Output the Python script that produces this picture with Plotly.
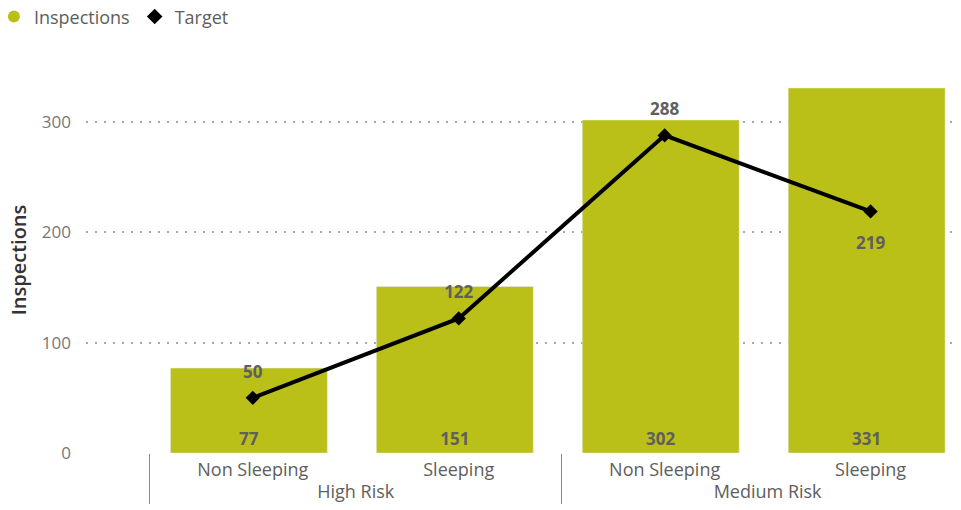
import plotly.graph_objects as go

risk = ["High Risk", "High Risk", "Medium Risk", "Medium Risk"]
sleep = ["Non Sleeping", "Sleeping", "Non Sleeping", "Sleeping"]
inspections = [77, 151, 302, 331]
target = [50, 122, 288, 219]
target_pos = ["top center", "top center", "top center", "bottom center"]

BAR = "#BAC018"
FONT = "Segoe UI, Open Sans, sans-serif"
LABEL = "#5F5F5F"

fig = go.Figure()
fig.add_trace(go.Bar(
    x=[risk, sleep], y=inspections, marker_color=BAR, width=0.762, offset=-0.4,
    text=[str(v) for v in inspections], textposition="inside",
    insidetextanchor="start", textangle=0,
    textfont=dict(color=LABEL, size=17, family=FONT, weight="bold"),
    showlegend=False, name="Inspections",
))
fig.add_trace(go.Scatter(
    x=[risk, sleep], y=target, mode="lines+markers",
    line=dict(color="black", width=4),
    marker=dict(symbol="diamond", size=11, color="black"),
    showlegend=False, name="Target", cliponaxis=False,
))
# Target data labels, offset using a transparent marker
fig.add_trace(go.Scatter(
    x=[risk, sleep], y=target, mode="markers+text",
    marker=dict(size=[24, 24, 24, 38], color="rgba(0,0,0,0)",
                line=dict(width=0, color="rgba(0,0,0,0)")),
    text=[str(v) for v in target], textposition=target_pos,
    textfont=dict(color=LABEL, size=17, family=FONT, weight="bold"),
    showlegend=False, hoverinfo="skip", cliponaxis=False,
))
# legend entries
fig.add_trace(go.Scatter(x=[None], y=[None], mode="markers", name="Inspections",
                         marker=dict(symbol="circle", size=15, color=BAR)))
fig.add_trace(go.Scatter(x=[None], y=[None], mode="markers", name="Target",
                         marker=dict(symbol="diamond", size=13, color="black")))

fig.update_layout(
    width=961, height=510,
    margin=dict(l=86, r=6, t=67, b=57, autoexpand=False),
    plot_bgcolor="white", paper_bgcolor="white",
    font=dict(family=FONT, color="#605E5C", size=14),
    legend=dict(orientation="h", x=-0.106, xanchor="left", y=1.178, yanchor="top",
                font=dict(size=18, color="#605E5C"), itemsizing="constant",
                itemwidth=30, tracegroupgap=0),
    xaxis=dict(type="multicategory", range=[-0.81, 3.41], automargin=False,
               showgrid=False, showline=False, ticks="", ticklabelstandoff=4,
               showdividers=True, dividercolor="#8A8A8A", dividerwidth=1,
               tickfont=dict(size=18, color="#605E5C")),
    yaxis=dict(range=[0, 350], tickvals=[0, 100, 200, 300], automargin=False,
               showgrid=True, gridcolor="#A8A8A8", griddash="2px,7px", gridwidth=1.5,
               zeroline=False, showline=False, ticklabelstandoff=14,
               tickfont=dict(size=17, color="#777777"),
               title=dict(text="Inspections", standoff=9,
                          font=dict(size=20, color="#333333", weight=600))),
)
fig.write_html("out.html")
